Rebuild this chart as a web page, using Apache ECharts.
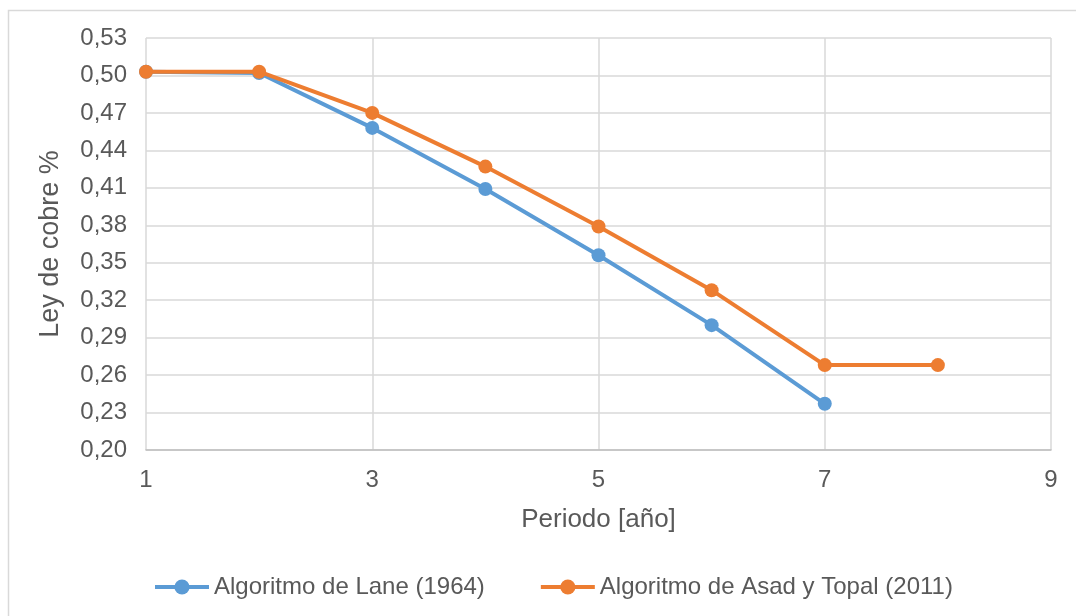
<!DOCTYPE html>
<html>
<head>
<meta charset="utf-8">
<script src="https://cdn.jsdelivr.net/npm/echarts@6/dist/echarts.min.js"></script>
<style>
  html, body { margin: 0; padding: 0; background: #ffffff; }
  #chart { width: 1076px; height: 616px; }
</style>
</head>
<body>
<div id="chart"></div>
<script>
// Copper grade per period for the two cut-off grade algorithms
const periods = [1, 2, 3, 4, 5, 6, 7, 8];
const laneGrade = [0.503, 0.502, 0.458, 0.409, 0.356, 0.300, 0.237];
const asadTopalGrade = [0.503, 0.503, 0.470, 0.427, 0.379, 0.328, 0.268, 0.268];
const seriesNames = ['Algoritmo de Lane (1964)', 'Algoritmo de Asad y Topal (2011)'];

// Axis ranges (ticks: 1,3,5,7,9 and 0,20 ... 0,53 step 0,03)
const X_MIN = 1, X_MAX = 9, X_STEP = 2;
const Y_MIN = 0.20, Y_MAX = 0.53, Y_STEP = 0.03;

// Both axes are laid out relative to their minimum so that ticks start on the first label
const toPoints = (vals) => vals.map((v, i) => [periods[i] - X_MIN, +(v - Y_MIN).toFixed(4)]);
const fmtY = (v) => (v + Y_MIN).toFixed(2).replace('.', ',');
const fmtX = (v) => String(Math.round(v + X_MIN));

const TEXT = '#595959';
const GRID = '#d9d9d9';
const FONT = '"Liberation Sans", Arial, sans-serif';
const BLUE = '#5b9bd5';
const ORANGE = '#ed7d31';

const chart = echarts.init(document.getElementById('chart'), null, { renderer: 'canvas' });

chart.setOption({
  backgroundColor: '#ffffff',
  animation: false,
  textStyle: { fontFamily: FONT, color: TEXT },
  graphic: [{
    type: 'rect',
    left: 6, top: 8,
    shape: { width: 1200, height: 800 },
    style: { fill: 'none', stroke: GRID, lineWidth: 1.5 },
    silent: true,
    z: -10
  }],
  grid: { left: 146, right: 25, top: 38, bottom: 166, containLabel: false },
  legend: {
    left: 148,
    top: 570,
    itemWidth: 54,
    itemHeight: 19,
    itemGap: 54,
    lineStyle: { width: 4 },
    textStyle: { fontFamily: FONT, fontSize: 24, color: TEXT, padding: [0, 0, 0, 0] },
    data: seriesNames
  },
  xAxis: {
    type: 'value',
    min: 0,
    max: X_MAX - X_MIN,
    interval: X_STEP,
    name: 'Periodo [año]',
    nameLocation: 'middle',
    nameGap: 57,
    nameTextStyle: { fontFamily: FONT, fontSize: 26, color: TEXT },
    axisLine: { show: true, lineStyle: { color: '#bfbfbf', width: 1.5 } },
    axisTick: { show: false },
    axisLabel: { formatter: fmtX, fontFamily: FONT, fontSize: 24, color: TEXT, margin: 18 },
    splitLine: { show: true, lineStyle: { color: GRID, width: 1.5 } }
  },
  yAxis: {
    type: 'value',
    min: 0,
    max: +(Y_MAX - Y_MIN).toFixed(2),
    interval: Y_STEP,
    name: 'Ley de cobre %',
    nameLocation: 'middle',
    nameRotate: 90,
    nameGap: 82,
    nameTextStyle: { fontFamily: FONT, fontSize: 27, color: TEXT },
    axisLine: { show: false },
    axisTick: { show: false },
    axisLabel: { formatter: fmtY, fontFamily: FONT, fontSize: 24, color: TEXT, margin: 19 },
    splitLine: { show: true, lineStyle: { color: GRID, width: 1.5 } }
  },
  series: [
    {
      name: seriesNames[0],
      type: 'line',
      data: toPoints(laneGrade),
      symbol: 'circle',
      symbolSize: 14,
      lineStyle: { color: BLUE, width: 4 },
      itemStyle: { color: BLUE },
      z: 2
    },
    {
      name: seriesNames[1],
      type: 'line',
      data: toPoints(asadTopalGrade),
      symbol: 'circle',
      symbolSize: 14,
      lineStyle: { color: ORANGE, width: 4 },
      itemStyle: { color: ORANGE },
      z: 3
    }
  ]
});
</script>
</body>
</html>
